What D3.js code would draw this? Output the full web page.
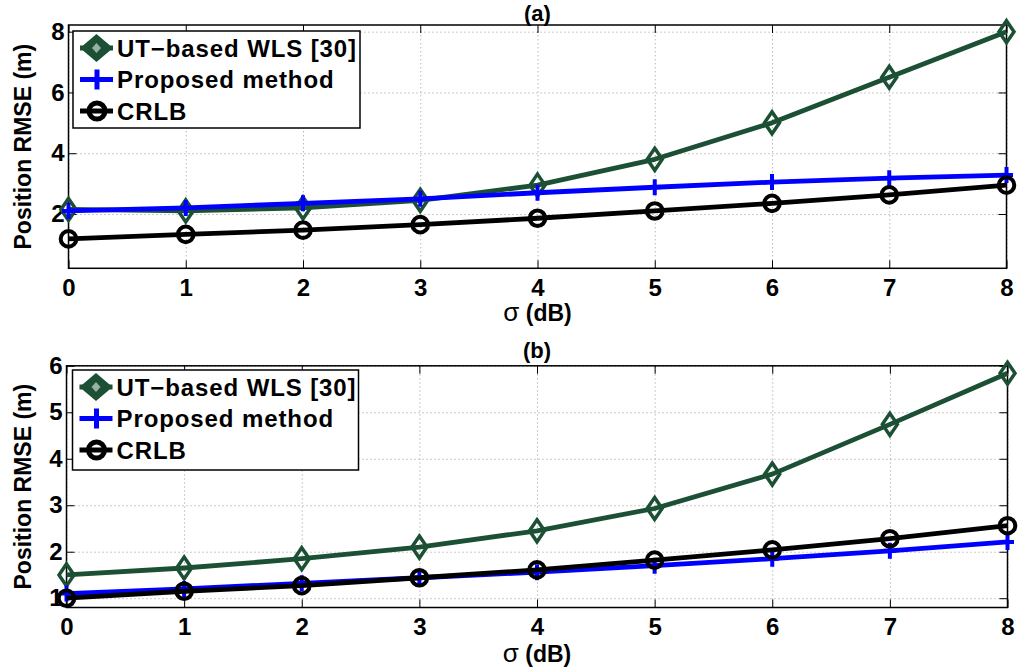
<!DOCTYPE html>
<html><head><meta charset="utf-8">
<script src="https://cdn.jsdelivr.net/npm/d3@7"></script>
<style>body{margin:0;background:#fff;} svg{display:block;font-family:"Liberation Sans",Arial,sans-serif;}</style>
</head><body><svg id="c" width="1021" height="670"></svg>
<script>
const sigma = [0,1,2,3,4,5,6,7,8];
const xTicks = [0,1,2,3,4,5,6,7,8];
// Panel (a)
const utA = [2.15,2.1,2.2,2.45,2.95,3.8,5.0,6.5,8.0];
const propA = [2.1,2.2,2.35,2.5,2.7,2.88,3.05,3.18,3.28];
const crlbA = [1.18,1.33,1.47,1.65,1.86,2.1,2.35,2.63,2.95];
const yTicksA = [2,4,6,8];
// Panel (b)
const utB = [1.5,1.65,1.85,2.1,2.45,2.93,3.67,4.74,5.84];
const propB = [1.1,1.2,1.32,1.44,1.56,1.7,1.85,2.02,2.21];
const crlbB = [1.0,1.15,1.27,1.44,1.61,1.82,2.04,2.28,2.56];
const yTicksB = [1,2,3,4,5,6];
const seriesNames = ["UT\u2212based WLS [30]","Proposed method","CRLB"];
const GREEN = "#1c5035", BLUE = "#0000ff", BLACK = "#000000";

const svg = d3.select("#c");

function diamond(g, cx, cy, col){
  const s = 11, w = 7.5;
  g.append("path").attr("d",`M${cx},${cy-s}L${cx+w},${cy}L${cx},${cy+s}L${cx-w},${cy}Z`)
   .attr("fill","none").attr("stroke",col).attr("stroke-width",3.5);
}
function plus(g, cx, cy, col){
  const w = 6.5, h = 8;
  g.append("path").attr("d",`M${cx-w},${cy}H${cx+w}M${cx},${cy-h}V${cy+h}`)
   .attr("stroke",col).attr("stroke-width",4);
}
function circ(g, cx, cy, col){
  g.append("circle").attr("cx",cx).attr("cy",cy).attr("r",7.8)
   .attr("fill","none").attr("stroke",col).attr("stroke-width",4);
}

function panel(cfg){
  const {left,right,top,bottom,ydom,yTicks,data,title,titleY,xlabY,legend} = cfg;
  const x = d3.scaleLinear().domain([0,8]).range([left,right]);
  const y = d3.scaleLinear().domain(ydom).range([bottom,top]);
  const g = svg.append("g");
  // grid
  g.append("g").attr("transform",`translate(0,${bottom})`)
    .call(d3.axisBottom(x).tickValues(xTicks).tickSize(-(bottom-top)).tickFormat(""))
    .call(a=>a.select(".domain").remove())
    .selectAll("line").attr("stroke","#999").attr("stroke-dasharray","1,3").attr("stroke-width",1);
  g.append("g").attr("transform",`translate(${left},0)`)
    .call(d3.axisLeft(y).tickValues(yTicks).tickSize(-(right-left)).tickFormat(""))
    .call(a=>a.select(".domain").remove())
    .selectAll("line").attr("stroke","#999").attr("stroke-dasharray","1,3").attr("stroke-width",1);
  // ticks (inside) and labels
  const tl = 8;
  const bx = g.append("g").attr("transform",`translate(0,${bottom})`)
    .call(d3.axisBottom(x).tickValues(xTicks).tickSize(-tl).tickPadding(cfg.xpad).tickFormat(d3.format("d")));
  bx.select(".domain").remove();
  bx.selectAll("text").attr("font-size",24).attr("font-weight","bold").attr("fill","#000").attr("font-family","Liberation Sans, Arial");
  bx.selectAll("line").attr("stroke","#000");
  const tx = g.append("g").attr("transform",`translate(0,${top})`)
    .call(d3.axisTop(x).tickValues(xTicks).tickSize(-tl).tickFormat(""));
  tx.select(".domain").remove(); tx.selectAll("line").attr("stroke","#000");
  const ly = g.append("g").attr("transform",`translate(${left},0)`)
    .call(d3.axisLeft(y).tickValues(yTicks).tickSize(-tl).tickPadding(4).tickFormat(d3.format("d")));
  ly.select(".domain").remove();
  ly.selectAll("text").attr("font-size",24).attr("font-weight","bold").attr("fill","#000").attr("font-family","Liberation Sans, Arial");
  ly.selectAll("line").attr("stroke","#000");
  const ry = g.append("g").attr("transform",`translate(${right},0)`)
    .call(d3.axisRight(y).tickValues(yTicks).tickSize(-tl).tickFormat(""));
  ry.select(".domain").remove(); ry.selectAll("line").attr("stroke","#000");
  // box
  g.append("rect").attr("x",left).attr("y",top).attr("width",right-left).attr("height",bottom-top)
    .attr("fill","none").attr("stroke","#000").attr("stroke-width",1.5);
  // lines
  const line = d3.line().x((d,i)=>x(sigma[i])).y(d=>y(d));
  const cols = [GREEN,BLUE,BLACK];
  const marks = [diamond,plus,circ];
  cfg.order.forEach(k=>{
    g.append("path").datum(data[k]).attr("d",line).attr("fill","none")
      .attr("stroke",cols[k]).attr("stroke-width",4.8).attr("stroke-linejoin","round");
    data[k].forEach((v,i)=>marks[k](g, x(sigma[i]), y(v), cols[k]));
  });
  // legend
  const L = legend;
  g.append("rect").attr("x",L.x).attr("y",L.y).attr("width",L.w).attr("height",L.h)
    .attr("fill","#fff").attr("stroke","#000").attr("stroke-width",1.5);
  seriesNames.forEach((n,k)=>{
    const cy = L.y + 17 + k*31.5;
    g.append("line").attr("x1",L.x+7).attr("x2",L.x+40).attr("y1",cy).attr("y2",cy)
      .attr("stroke",cols[k]).attr("stroke-width",4.8);
    if(k===0){
      g.append("path").attr("d",`M${L.x+23.5},${cy-14}L${L.x+40},${cy}L${L.x+23.5},${cy+14}L${L.x+7},${cy}Z`)
        .attr("fill",GREEN);
      g.append("path").attr("d",`M${L.x+23.5},${cy-5}L${L.x+28},${cy}L${L.x+23.5},${cy+5}L${L.x+19},${cy}Z`)
        .attr("fill","#fff").attr("opacity",0.55);
    } else if(k===1){
      g.append("path").attr("d",`M${L.x+15},${cy}H${L.x+33}M${L.x+24},${cy-10}V${cy+10}`)
        .attr("stroke",BLUE).attr("stroke-width",5);
    } else {
      g.append("circle").attr("cx",L.x+24).attr("cy",cy).attr("r",8).attr("fill","none").attr("stroke","#000").attr("stroke-width",5);
    }
    g.append("text").attr("x",L.x+44).attr("y",cy+8.5).text(n)
      .attr("font-size",24).attr("letter-spacing",0.9).attr("font-weight","bold").attr("fill","#000");
  });
  // titles
  g.append("text").attr("x",(left+right)/2).attr("y",titleY).attr("text-anchor","middle")
    .attr("font-size",22).attr("font-weight","bold").text(title);
  const xl = g.append("text").attr("x",(left+right)/2).attr("y",xlabY).attr("text-anchor","middle")
    .attr("font-size",23).attr("font-weight","bold");
  xl.append("tspan").attr("font-weight","normal").attr("font-size",26).text("\u03c3");
  xl.append("tspan").text(" (dB)");
  g.append("text").attr("transform",`translate(${cfg.ylabX},${(top+bottom)/2}) rotate(-90)`)
    .attr("text-anchor","middle").attr("font-size",23).attr("font-weight","bold").text("Position RMSE (m)");
}

panel({left:68.5,right:1006.5,top:25,bottom:268.3,ydom:[0.213,8.22],yTicks:yTicksA,
  data:[utA,propA,crlbA],order:[0,1,2],title:"(a)",titleY:20.5,xlabY:321,ylabX:31,xpad:11,
  legend:{x:73,y:31,w:287,h:97}});
panel({left:66.5,right:1007.5,top:365.8,bottom:607.5,ydom:[0.8,6.0],yTicks:yTicksB,
  data:[utB,propB,crlbB],order:[0,1,2],title:"(b)",titleY:358,xlabY:662,ylabX:31,xpad:10,
  legend:{x:72.5,y:370,w:286,h:100}});
</script></body></html>
